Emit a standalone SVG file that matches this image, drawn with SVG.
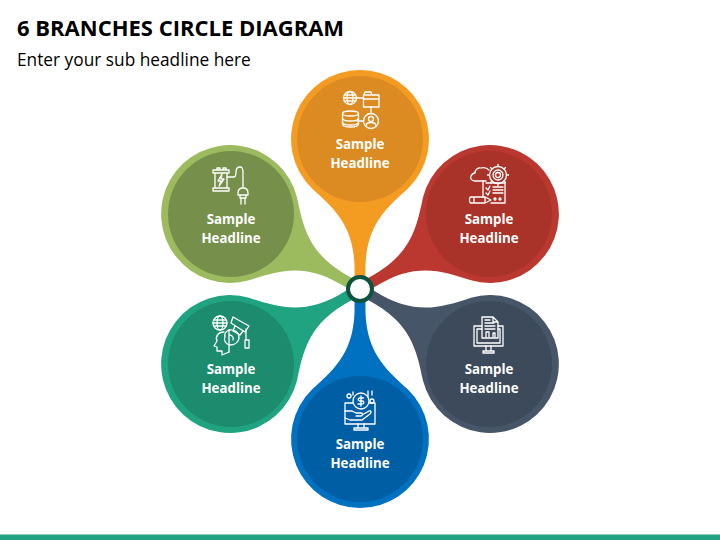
<svg xmlns="http://www.w3.org/2000/svg" xmlns:xlink="http://www.w3.org/1999/xlink" width="720" height="540" viewBox="0 0 720 540">
<style>
text{font-family:"Open Sans","Noto Sans","Liberation Sans",sans-serif}
.t{font-size:22px;font-weight:700;fill:#000}
.s{font-size:17.300px;fill:#000}
.l{font-size:13.300px;font-weight:700;fill:#fff;text-anchor:middle}
.i{fill:none;stroke:#fff;stroke-width:1.300;stroke-linejoin:round;stroke-linecap:round}
</style>
<defs>
<path id="drop" d="M360,70A69,69 0 0 1 408,188.500C384,210 364,228 365.500,275L365,290H355L354.500,275C356,228 336,210 312,188.500A69,69 0 0 1 360,70Z"/>
</defs>
<rect width="720" height="540" fill="#fff"/>
<text class="t" x="17" y="36">6 BRANCHES CIRCLE DIAGRAM</text>
<text class="s" x="17" y="66">Enter your sub headline here</text>
<rect x="0" y="534.500" width="720" height="5.500" fill="#23A283"/>

<g id="node-green">
<use xlink:href="#drop" href="#drop" fill="#9BBB5E" transform="rotate(-60 360 289)"/>
<circle cx="231" cy="214" r="63" fill="#76904C"/>
<g class="i">
<path d="M213,170H229V173H227V188H229V191H213V188H215V173H213ZM215,173H227M215,188H227M217,170V168H220V170M223,170V168H226V170"/>
<path d="M222,174L218,181H221L219,186L224,179H221Z"/>
<path d="M227,177H234C236,177 236,175 236,172C236,168 238,167 240,167C242,167 243,169 243,172V187"/>
<path d="M238,193C238,190 240,188 243,188C246,188 248,190 248,193V195H238ZM240,195V198H246V195M241,198V204M245,198V204"/>
</g>
<text class="l" x="231" y="224">Sample</text>
<text class="l" x="231" y="243">Headline</text>
</g>

<g id="node-orange">
<use xlink:href="#drop" href="#drop" fill="#F49B22"/>
<circle cx="360" cy="139" r="63" fill="#DB8B22"/>
<g class="i">
<circle cx="350" cy="98" r="6.500"/>
<ellipse cx="350" cy="98" rx="3" ry="6.500"/>
<path d="M343.500,98H356.500M344.500,95H355.500M344.500,101H355.500"/>
<path d="M356.500,98H363.500M363.500,95H379V107H363.500ZM363.500,95L365,92H371L372,95M363.500,99H379"/>
<path d="M371,107V113.500M357,121H363.500"/>
<circle cx="371" cy="121" r="7.500"/>
<circle cx="371" cy="119" r="2.500"/>
<path d="M366,126C366,123 368,122.500 371,122.500C374,122.500 376,123 376,126"/>
<ellipse cx="350.500" cy="113.500" rx="8" ry="2.500"/>
<path d="M342.500,113.500V124C342.500,126 346,127 350.500,127C355,127 358.500,126 358.500,124V113.500M342.500,118C342.500,120 346,121 350.500,121C355,121 358.500,120 358.500,118M342.500,122C342.500,124 346,125 350.500,125C355,125 358.500,124 358.500,122"/>
</g>
<text class="l" x="360" y="149">Sample</text>
<text class="l" x="360" y="168">Headline</text>
</g>

<g id="node-red">
<use xlink:href="#drop" href="#drop" fill="#BA382F" transform="rotate(60 360 289)"/>
<circle cx="489" cy="214" r="63" fill="#A93329"/>
<g class="i">
<path d="M483,181H475C471,181 470,178 471,176C472,174 473,173 475,173C475,170 478,167 481,168C484,167 487,168 489,170"/>
<circle cx="498" cy="175" r="8.500"/>
<circle cx="498" cy="175" r="5"/>
<circle cx="498" cy="175" r="2.500"/>
<path d="M498,166.500V164.500M498,183.500V185.500M489.500,175H487.500M508.500,175H506.500M492,169L490.500,167.500M504,169L505.500,167.500M504,181L505.500,182.500M492,181L490.500,182.500"/>
<path d="M483,181V197M486,183H505V203H491M483,181H486"/>
<path d="M493,187H503M493,190H503M493,193H503"/>
<path d="M486,188L488,190L490,186M486,193L488,195L490,191"/>
<path d="M471,197H485L491,200L485,203H471C469,203 469,197 471,197ZM474,197V203M485,197V203"/>
<circle cx="495" cy="199" r="1"/><circle cx="500" cy="199" r="1"/>
</g>
<text class="l" x="489" y="224">Sample</text>
<text class="l" x="489" y="243">Headline</text>
</g>

<g id="node-dark">
<use xlink:href="#drop" href="#drop" fill="#475569" transform="rotate(120 360 289)"/>
<circle cx="489" cy="364" r="63" fill="#3D4A5C"/>
<g class="i">
<path d="M482,326H474V346H503V326H498"/>
<path d="M477,329H482M498,329H500V343H477V329"/>
<path d="M486,346V351H491V346M483,353H494V351H483Z"/>
<path d="M482,317H493L498,322V338H482ZM493,317V322H498"/>
<path d="M485,320H490M485,323H494M485,326H495M485,329H495"/>
<path d="M486,337V332H489V337M493,337V333H495V337"/>
</g>
<text class="l" x="489" y="374">Sample</text>
<text class="l" x="489" y="393">Headline</text>
</g>

<g id="node-blue">
<use xlink:href="#drop" href="#drop" fill="#0070C0" transform="rotate(180 360 289)"/>
<circle cx="360" cy="439" r="63" fill="#005FA4"/>
<g class="i">
<circle cx="361" cy="401" r="8"/>
<path d="M363.500,398H360C357.500,398 357.500,401 360,401H362C364.500,401 364.500,404 362,404H358M361,396V406"/>
<path d="M353,403H345V424H375V403H369"/>
<path d="M345,411H352L356,413H361C363,413 363,416 361,416H356M362,415L369,411C371,410 372,412 370,414L362,420H350L345,418"/>
<path d="M358,424V428H364V424M354,430V428H368V430Z"/>
<circle cx="349" cy="396" r="2"/>
<circle cx="372" cy="401" r="2"/>
<path d="M353,392V395M368,391V397M372,391V395"/>
</g>
<text class="l" x="360" y="449">Sample</text>
<text class="l" x="360" y="468">Headline</text>
</g>

<g id="node-teal">
<use xlink:href="#drop" href="#drop" fill="#1FA381" transform="rotate(-120 360 289)"/>
<circle cx="231" cy="364" r="63" fill="#1D8B6D"/>
<g class="i">
<circle cx="220" cy="323" r="7"/>
<ellipse cx="220" cy="323" rx="3" ry="7"/>
<path d="M213,323H227M214,320H226M214,326H226"/>
<path d="M224,332C218,332 215,337 217,341L214,346L217,347V351H222V355L229,352"/>
<path d="M229,352V345C235,345 239,342 239,337C239,332 234,329 229,330"/>
<path d="M229,330C226,331 224,334 225,337C223,340 226,344 229,345M229,330V345M229,335C232,335 234,337 233,340"/>
<path d="M233,317L249,326L245,332L231,323ZM235,326L233,331L240,335L243,331"/>
<path d="M246,329V340M245,340H249V348H245Z"/>
</g>
<text class="l" x="231" y="374">Sample</text>
<text class="l" x="231" y="393">Headline</text>
</g>

<g id="hub">
<circle cx="360" cy="289" r="12" fill="#fff" stroke="#0E5340" stroke-width="4"/>
</g>
</svg>
